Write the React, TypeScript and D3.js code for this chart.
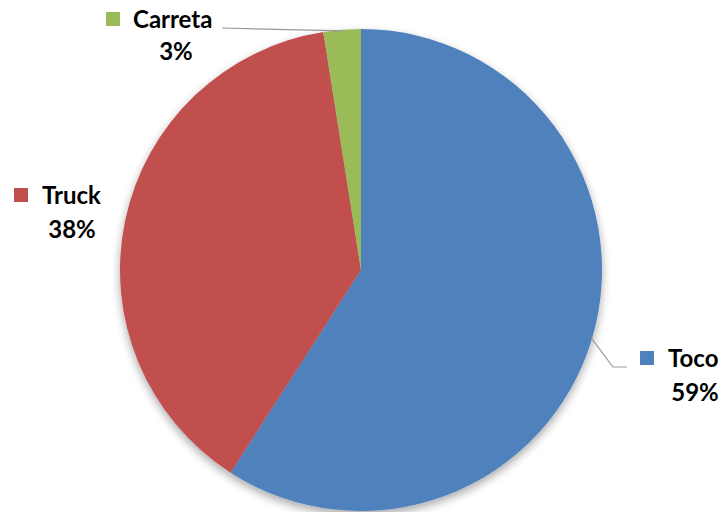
import React from "react";
import * as d3 from "d3";

const categories = ["Toco", "Truck", "Carreta"];
const values = [59.1, 38.4, 2.5];
const colors = ["#4F81BD", "#C0504D", "#9BBB59"];

const W = 724, H = 512;
const cx = 361, cy = 270, R = 241;

export default function App() {
  const pie = d3.pie<number>().sort(null).value((d) => d)(values);
  const arc = d3.arc<d3.PieArcDatum<number>>().innerRadius(0).outerRadius(R);
  const total = d3.sum(values);
  const pct = values.map((v) => Math.round((v / total) * 100) + "%");

  const labels = [
    { sx: 640, sy: 351, tx: 668, ty: 367, px: 695, py: 401 },
    { sx: 14, sy: 188, tx: 42, ty: 204, px: 72, py: 238 },
    { sx: 106, sy: 12, tx: 133, ty: 28, px: 176, py: 60 },
  ];

  const tocoMid = (pie[0].startAngle + pie[0].endAngle) / 2;
  const carMid = (pie[2].startAngle + pie[2].endAngle) / 2;
  const pt = (a: number, r: number) => [cx + r * Math.sin(a), cy - r * Math.cos(a)];
  const tp = pt(tocoMid, R * 0.995);
  const cp = pt(carMid, R * 0.995);

  return (
    <svg width={W} height={H} style={{ position: "absolute", left: 0, top: 0 }} fontFamily="Lato, 'Open Sans', sans-serif">
      <defs>
        <filter id="sh" x="-20%" y="-20%" width="140%" height="140%">
          <feGaussianBlur in="SourceAlpha" stdDeviation="5" />
          <feOffset dx="0" dy="4" result="b" />
          <feComponentTransfer>
            <feFuncA type="linear" slope="0.35" />
          </feComponentTransfer>
          <feMerge>
            <feMergeNode />
            <feMergeNode in="SourceGraphic" />
          </feMerge>
        </filter>
      </defs>
      <rect width={W} height={H} fill="#fff" />
      <g transform={`translate(${cx},${cy})`} filter="url(#sh)">
        {pie.map((p, i) => (
          <path key={i} d={arc(p) || ""} fill={colors[i]} />
        ))}
      </g>
      <polyline points={`${tp[0]},${tp[1]} 613,367 627,367`} fill="none" stroke="#9a9a9a" strokeWidth={1.2} />
      <polyline points={`222,28 ${cp[0]},${cp[1]}`} fill="none" stroke="#9a9a9a" strokeWidth={1.2} />
      {labels.map((l, i) => (
        <g key={i}>
          <rect x={l.sx} y={l.sy} width={14} height={14} fill={colors[i]} />
          <text x={l.tx} y={l.ty} fontSize={24} fontWeight="bold" fill="#000">{categories[i]}</text>
          <text x={l.px} y={l.py} fontSize={24} fontWeight="bold" fill="#000" textAnchor="middle">{pct[i]}</text>
        </g>
      ))}
    </svg>
  );
}
